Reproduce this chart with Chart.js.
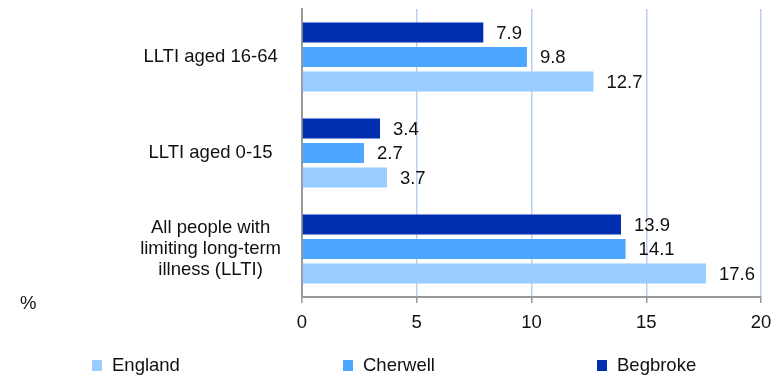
<!DOCTYPE html>
<html>
<head>
<meta charset="utf-8">
<script src="https://cdn.jsdelivr.net/npm/chart.js@4"></script>
<style>
html,body{margin:0;padding:0;background:#fff;}
#wrap{width:776px;height:376px;}
</style>
</head>
<body>
<div id="wrap"><canvas id="c" width="776" height="376"></canvas></div>
<script>
const categories = ["LLTI aged 16-64", "LLTI aged 0-15", ["All people with", "limiting long-term", "illness (LLTI)"]];
const seriesNames = ["Begbroke", "Cherwell", "England"];
const begbroke = [7.9, 3.4, 13.9];
const cherwell = [9.8, 2.7, 14.1];
const england = [12.7, 3.7, 17.6];
const xTicks = [0, 5, 10, 15, 20];
const unitLabel = "%";

const colors = ["#0030B0", "#4DA6FF", "#99CCFF"];
const FONT = "'Liberation Sans', Arial, sans-serif";
const FS = 18.5;

const extras = {
  id: 'extras',
  afterDatasetsDraw(chart) {
    const ctx = chart.ctx;
    ctx.save();
    ctx.font = FS + "px " + FONT;
    ctx.fillStyle = "#111";
    ctx.textAlign = "left";
    ctx.textBaseline = "middle";
    chart.data.datasets.forEach((ds, i) => {
      const meta = chart.getDatasetMeta(i);
      meta.data.forEach((bar, j) => {
        ctx.fillText(ds.data[j].toFixed(1), bar.x + 13, bar.y + 1);
      });
    });
    // unit label
    ctx.fillText(unitLabel, 20, 304);
    // legend (reverse order)
    const legendX = [92, 343, 597];
    const order = [2, 1, 0];
    order.forEach((di, k) => {
      const ds = chart.data.datasets[di];
      ctx.fillStyle = ds.backgroundColor;
      ctx.fillRect(legendX[k], 360, 10, 11);
      ctx.fillStyle = "#111";
      ctx.fillText(ds.label, legendX[k] + 20, 366);
    });
    ctx.restore();
  }
};

new Chart(document.getElementById('c'), {
  type: 'bar',
  data: {
    labels: categories,
    datasets: [
      { label: seriesNames[0], data: begbroke, backgroundColor: colors[0] },
      { label: seriesNames[1], data: cherwell, backgroundColor: colors[1] },
      { label: seriesNames[2], data: england, backgroundColor: colors[2] }
    ]
  },
  options: {
    indexAxis: 'y',
    responsive: false,
    animation: false,
    devicePixelRatio: 1,
    layout: { padding: { top: 9, right: 15, bottom: 0, left: 0 } },
    datasets: { bar: { categoryPercentage: 0.766, barPercentage: 0.816, borderWidth: 0 } },
    plugins: { legend: { display: false }, tooltip: { enabled: false } },
    scales: {
      x: {
        min: 0, max: 20,
        afterBuildTicks(scale) { scale.ticks = xTicks.map(v => ({ value: v })); },
        afterFit(scale) { scale.height = 79; scale.paddingLeft = 0; scale.paddingRight = 0; },
        grid: { color: "#BCD0EA", lineWidth: 1.5, tickColor: "#999", tickLength: 6, drawTicks: true },
        border: { display: true, color: "#999", width: 2 },
        ticks: { color: "#111", font: { family: FONT, size: FS }, padding: 9 }
      },
      y: {
        afterFit(scale) { scale.width = 302; scale.paddingTop = 0; scale.paddingBottom = 0; },
        grid: { drawOnChartArea: false, drawTicks: false, tickLength: 0, color: "rgba(0,0,0,0)" },
        border: { display: true, color: "#999", width: 2 },
        ticks: { color: "#111", font: { family: FONT, size: FS, lineHeight: 1.14 }, padding: 21, crossAlign: 'center' }
      }
    }
  },
  plugins: [extras]
});
</script>
</body>
</html>
